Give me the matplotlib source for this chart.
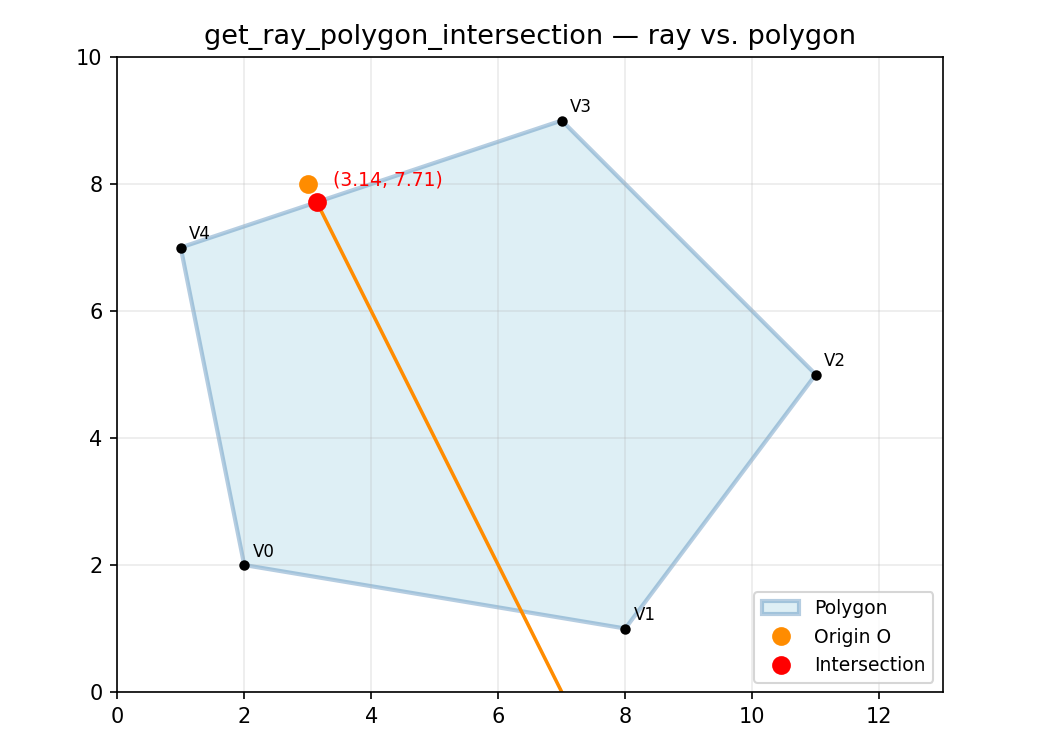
import numpy as np
import matplotlib
matplotlib.use("Agg")
import matplotlib.pyplot as plt
from matplotlib.patches import Polygon

# polygon vertices
vx = [2, 8, 11, 7, 1]
vy = [2, 1, 5, 9, 7]
vnames = ["V0", "V1", "V2", "V3", "V4"]

origin = (3, 8)
hit = (3.142857, 7.714286)
ray_end = (7.5, -1.0)

fig = plt.figure(figsize=(7, 5), dpi=150)
ax = fig.add_axes([0.1114, 0.0773, 0.7867, 0.8467])

poly = Polygon(np.column_stack([vx, vy]), closed=True, facecolor="lightblue",
               edgecolor="steelblue", linewidth=2, alpha=0.4, label="Polygon")
ax.add_patch(poly)

for x, y, n in zip(vx, vy, vnames):
    ax.plot(x, y, "o", color="black", markersize=4)
    ax.annotate(n, (x, y), xytext=(4, 4), textcoords="offset points", fontsize=8)

ax.plot([hit[0], ray_end[0]], [hit[1], ray_end[1]], color="darkorange", linewidth=1.7)
ax.plot(*origin, "o", color="darkorange", markersize=8, label="Origin O")
ax.plot(*hit, "o", color="red", markersize=8, label="Intersection")
ax.annotate(f"({hit[0]:.2f}, {hit[1]:.2f})", hit, xytext=(8, 8),
            textcoords="offset points", color="red", fontsize=9)

ax.set_xlim(0, 13)
ax.set_ylim(0, 10)
ax.set_aspect("equal")
ax.grid(True, alpha=0.25)
ax.set_title("get_ray_polygon_intersection — ray vs. polygon", fontsize=13)
ax.legend(loc="lower right", fontsize=9)

fig.savefig("out.png", dpi=150)
